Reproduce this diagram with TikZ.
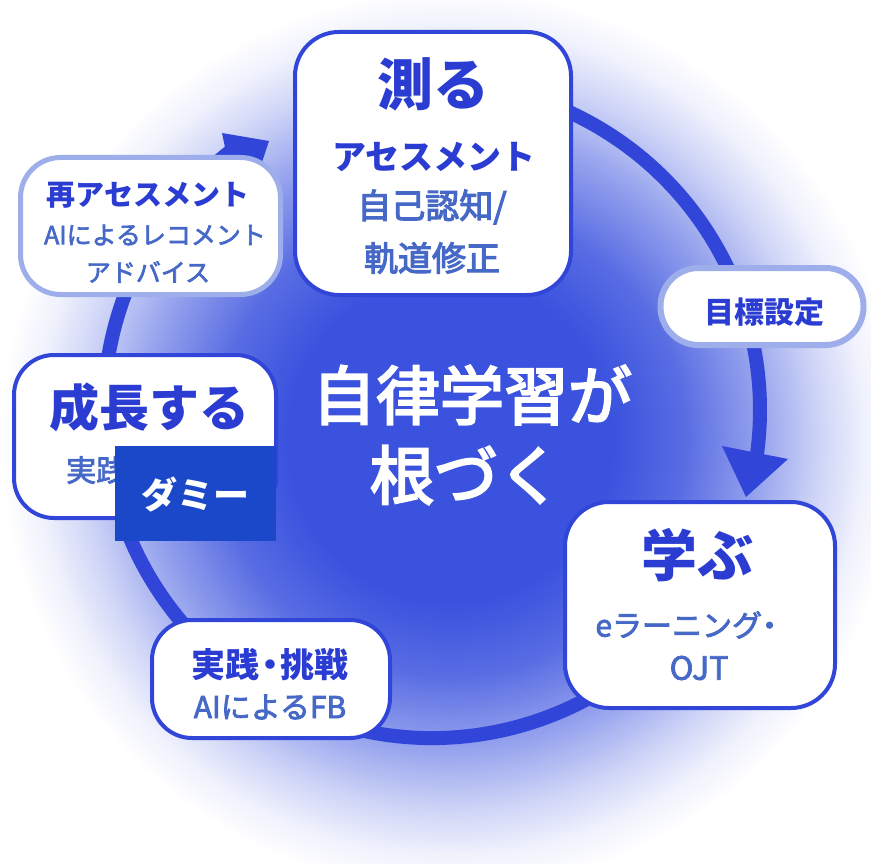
\documentclass[tikz,border=0pt]{standalone}
\usepackage{fontspec}
\usetikzlibrary{calc}
\setmainfont{Noto Sans CJK JP}
\definecolor{ringc}{HTML}{3146D9}
\definecolor{glowc}{HTML}{3A52DE}
\definecolor{titlec}{HTML}{2A3CD2}
\definecolor{subc}{HTML}{4668C6}
\definecolor{lightc}{HTML}{9DAEEA}
\definecolor{dummyc}{HTML}{1B48C8}
\newcommand\thicktext[2]{\special{pdf:literal direct 2 Tr #1 w}#2\special{pdf:literal direct 0 Tr}}
\pgfdeclareradialshading{glowshade}{\pgfpointorigin}{color(0bp)=(glowc); color(9bp)=(glowc); color(13bp)=(glowc!85!white); color(17bp)=(glowc!55!white); color(20.5bp)=(glowc!25!white); color(23bp)=(glowc!8!white); color(25bp)=(white); color(50bp)=(white)}
\tikzset{
  mainbox/.style={draw=ringc, line width=4pt, fill=white, rounded corners=44pt, inner sep=0pt, outer sep=0pt},
  lightbox/.style={draw=lightc, line width=5pt, fill=white, rounded corners=40pt, inner sep=0pt, outer sep=0pt},
  ttl/.style={text=titlec, anchor=center, inner sep=0pt},
  sub/.style={text=subc, anchor=center, inner sep=0pt},
  ringline/.style={draw=ringc, line width=14pt, line cap=butt},
  fs/.style={font=\fontsize{#1}{#1}\selectfont},
  fsb/.style={font=\fontsize{#1}{#1}\selectfont\bfseries},
}
\begin{document}
\begin{tikzpicture}[x=1pt,y=-1pt]
\useasboundingbox (0,0) rectangle (871,864);
\fill[white] (0,0) rectangle (871,864);
\begin{scope}
  \clip (0,0) rectangle (871,864);
  \shade[shading=glowshade] (450,440) circle (450);
\end{scope}
% ring
\coordinate (c) at (432,410);
\draw[ringline] ($(c)+(249:328)$) arc[start angle=249, end angle=368, radius=328];
\draw[ringline] ($(c)+(20:328)$) arc[start angle=20, end angle=232, radius=328];
\coordinate (a1) at (722,446);
\coordinate (a2) at (746,497);
\coordinate (a3) at (788,459);
\fill[ringc] (a1) -- (a2) -- (a3) -- cycle;
\coordinate (w1) at (222,133);
\coordinate (w2) at (269,141);
\coordinate (w3) at (262,162);
\coordinate (w4) at (228,162);
\fill[ringc] (w1) -- (w2) -- (w3) -- (w4) -- cycle;
% boxes
\node[mainbox, minimum width=276pt, minimum height=263pt] (hakaru) at (433,163.5) {};
\node[lightbox, minimum width=260pt, minimum height=137pt] (reass) at (150.5,226) {};
\node[mainbox, rounded corners=40pt, minimum width=262pt, minimum height=163pt] (seicho) at (145,436.5) {};
\node[mainbox, minimum width=270pt, minimum height=206pt] (manabu) at (700,605) {};
\node[mainbox, rounded corners=40pt, minimum width=238pt, minimum height=118pt] (jissen) at (271,679) {};
\node[lightbox, line width=6pt, rounded corners=38pt, minimum width=203pt, minimum height=77pt] (mokuhyo) at (762,306.5) {};
% texts
\node[ttl, fsb=56] (t1) at (433,84) {測る};
\node[ttl, fsb=34] (t2) at (434,157) {アセスメント};
\node[sub, fs=34] (t3) at (432,207) {\thicktext{1.1}{自己認知/}};
\node[sub, fs=34] (t4) at (432,258) {\thicktext{1.1}{軌道修正}};
\node[ttl, fsb=29] (r1) at (148,195) {再アセスメント};
\node[sub, fs=25] (r2) at (155,235) {\thicktext{0.6}{AIによるレコメント}};
\node[sub, fs=25] (r3) at (148,272) {\thicktext{0.6}{アドバイス}};
\node[ttl, fsb=50] (s1) at (149,407) {成長する};
\node[sub, fs=30, anchor=west] (s2) at (66,470) {\thicktext{0.8}{実践}};
\node[fill=dummyc, minimum width=161pt, minimum height=95pt, inner sep=0pt] (dummy) at (195.5,493.5) {};
\node[text=white, fsb=36, inner sep=0pt] (dt) at (195,495) {ダミー};
\node[ttl, fsb=56] (m1) at (697,555) {学ぶ};
\node[sub, fs=30] (m2) at (690,625) {\thicktext{0.8}{eラーニング\kern-0.25em・}};
\node[sub, fs=32] (m3) at (699,668) {\thicktext{0.8}{OJT}};
\node[ttl, fsb=34] (j1) at (270,665) {実践\kern-0.2em・\kern-0.2em挑戦};
\node[sub, fs=30] (j2) at (270,707) {\thicktext{0.8}{AIによるFB}};
\node[ttl, fsb=30] (g1) at (764,312) {目標設定};
\node[text=white, fs=64, inner sep=0pt] (c1) at (472,395) {\thicktext{2.2}{自律学習が}};
\node[text=white, fs=64, inner sep=0pt] (c2) at (466,475) {\thicktext{2.2}{根づく}};
\end{tikzpicture}
\end{document}
